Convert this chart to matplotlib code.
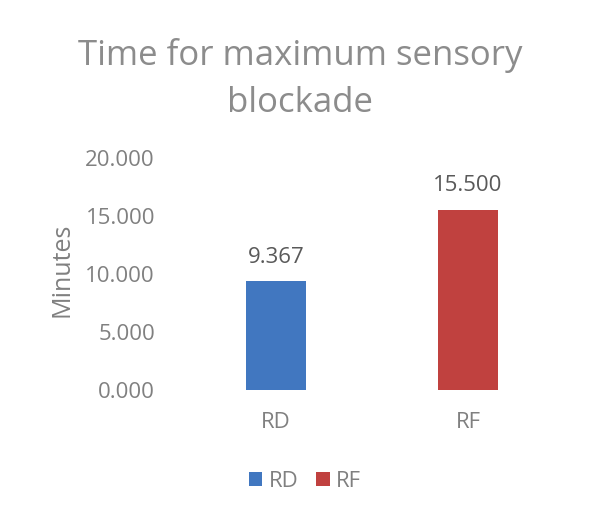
import matplotlib
matplotlib.use("Agg")
import matplotlib.pyplot as plt
from matplotlib.patches import Patch

# Data
groups = ["RD", "RF"]
minutes = [9.367, 15.500]
bar_colors = ["#4177C0", "#C0413F"]
y_ticks = [0, 5, 10, 15, 20]

plt.rcParams["font.family"] = ["Open Sans", "DejaVu Sans"]

fig = plt.figure(figsize=(5.9, 5.08), dpi=100)
ax = fig.add_axes([0.305, 0.232, 0.651, 0.457])

x = range(len(groups))
bars = ax.bar(x, minutes, width=0.31, color=bar_colors)

# value labels above each bar
for b, v in zip(bars, minutes):
    ax.annotate("%.3f" % v, (b.get_x() + b.get_width() / 2, v),
                xytext=(0, 10), textcoords="offset points",
                ha="center", va="bottom", fontsize=16, color="#595959")

ax.set_xlim(-0.5, 1.5)
ax.set_ylim(0, 20)
ax.set_xticks(list(x))
ax.set_xticklabels(groups)
ax.set_yticks(y_ticks)
ax.set_yticklabels(["%.3f" % t for t in y_ticks])
ax.tick_params(axis="both", length=0, labelsize=16, colors="#808080")
ax.tick_params(axis="x", pad=16)
ax.tick_params(axis="y", pad=18)
for s in ax.spines.values():
    s.set_visible(False)

fig.text(62 / 590, 1 - 270 / 508, "Minutes", rotation=90, ha="center", va="center",
         fontsize=18, color="#808080")

fig.text(0.508, 0.925, "Time for maximum sensory\nblockade", ha="center", va="top",
         fontsize=25, color="#8C8C8C", linespacing=1.5)

handles = [Patch(facecolor=c, label=g) for g, c in zip(groups, bar_colors)]
fig.legend(handles=handles, loc="center", bbox_to_anchor=(0.517, 0.053), ncol=2,
           frameon=False, fontsize=16, labelcolor="#808080",
           handlelength=0.6, handleheight=0.6, handletextpad=0.3, columnspacing=0.8)

fig.savefig("out.png", dpi=100)
